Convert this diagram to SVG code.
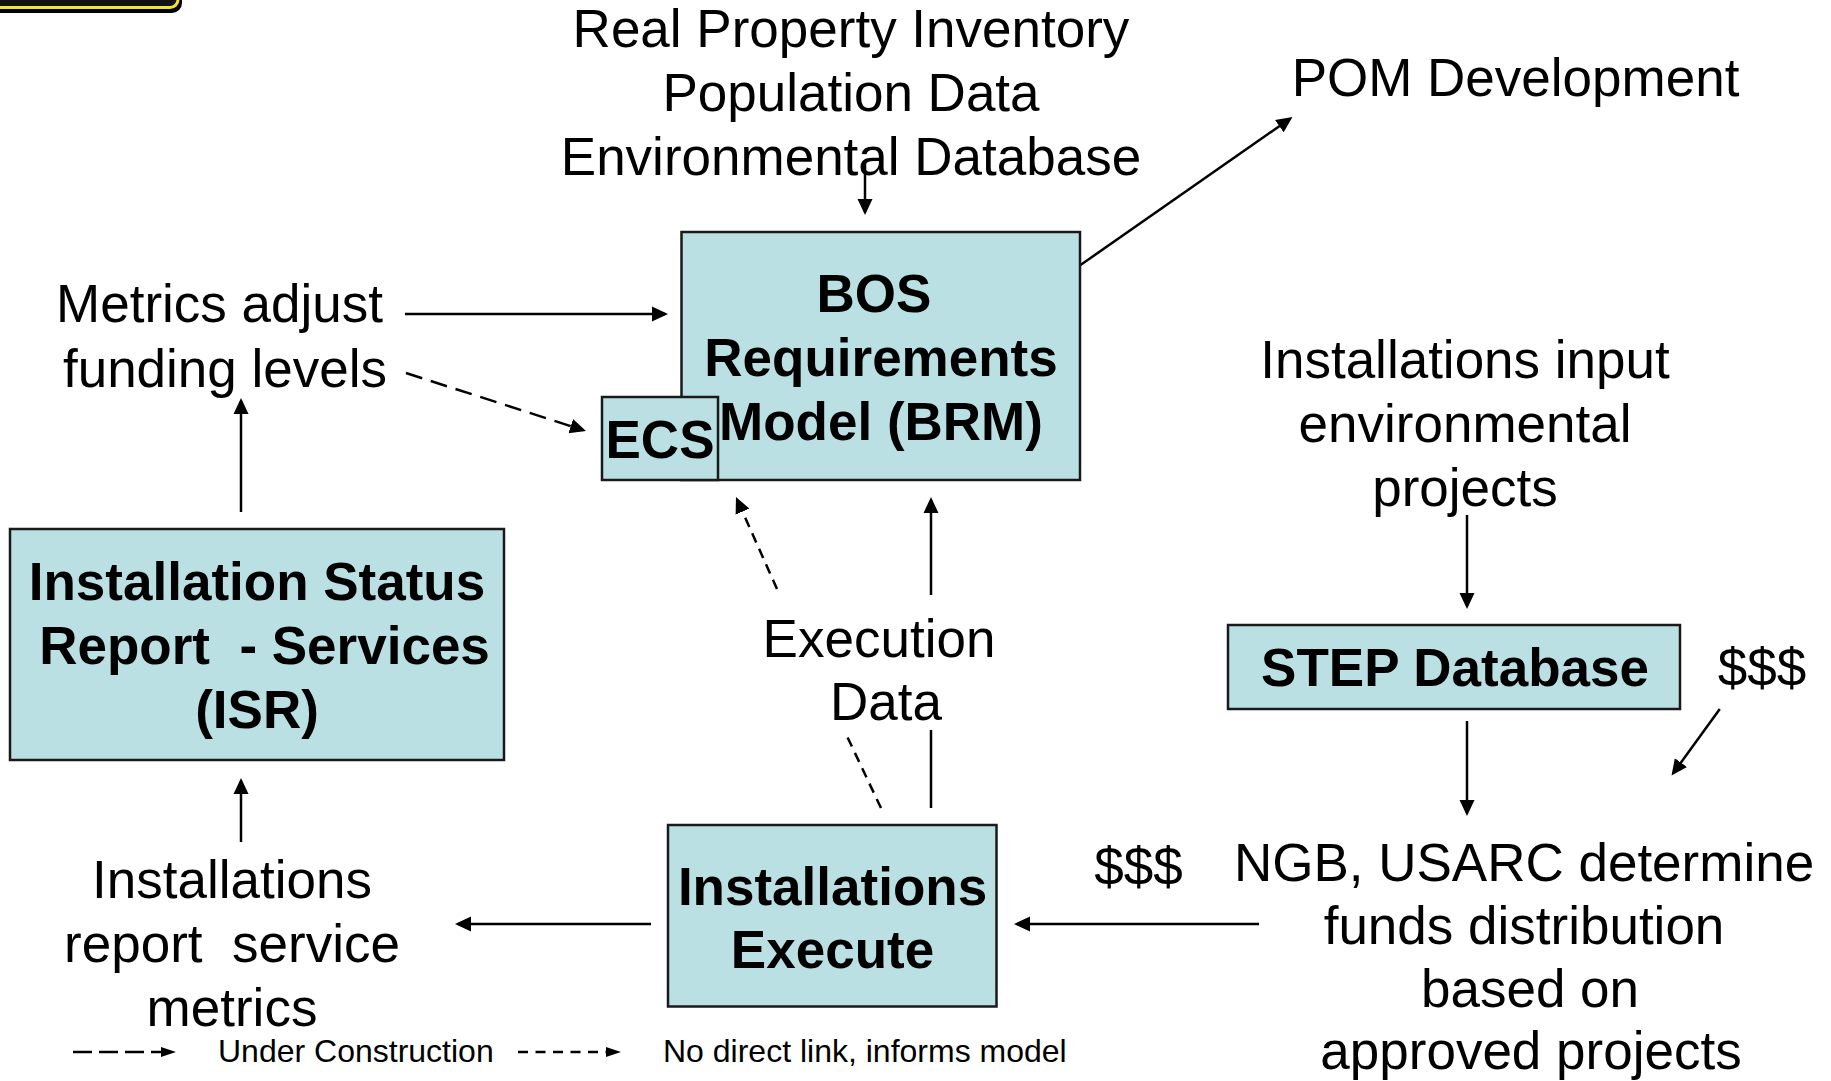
<svg xmlns="http://www.w3.org/2000/svg" width="1831" height="1081" viewBox="0 0 1831 1081">
<style>
text{font-family:"Liberation Sans",Arial,Helvetica,sans-serif;fill:#000}
.t{font-size:53px;text-anchor:middle}
.b{font-size:53px;font-weight:bold;text-anchor:middle}
.lg{font-size:32px}
.box{fill:#bae0e3;stroke:#1a1a1a;stroke-width:2.5}
.c{stroke:#000;stroke-width:2.5;fill:none}
.long{stroke-dasharray:17 9}
.short{stroke-dasharray:10 7}
.lgl{stroke:#000;stroke-width:2.5;fill:none}
</style>
<defs>
<marker id="ah" markerUnits="userSpaceOnUse" markerWidth="16" markerHeight="16" refX="13" refY="8" orient="auto" viewBox="0 0 16 16">
<path d="M0,0.5 L16,8 L0,15.5 z" fill="#000"/>
</marker>
<marker id="ahs" markerUnits="userSpaceOnUse" markerWidth="15" markerHeight="12" refX="12" refY="6" orient="auto" viewBox="0 0 15 12">
<path d="M0,1 L15,6 L0,11 z" fill="#000"/>
</marker>
</defs>
<rect width="1831" height="1081" fill="#fff"/>
<g id="badge">
<rect x="-30" y="-40" width="212" height="53" rx="10" fill="#000"/>
<rect x="-26" y="-40" width="204" height="47.5" rx="8" fill="#111" stroke="#efe23a" stroke-width="3"/>
</g>
<g id="connectors">
<line class="c" x1="865" y1="163" x2="865" y2="212" marker-end="url(#ah)"/>
<line class="c" x1="405" y1="314" x2="665" y2="314" marker-end="url(#ah)"/>
<line class="c long" x1="406" y1="373" x2="583.1" y2="430.1" marker-end="url(#ah)"/>
<line class="c" x1="1080.5" y1="265" x2="1290" y2="118.7" marker-end="url(#ah)"/>
<line class="c" x1="241" y1="512" x2="241" y2="401" marker-end="url(#ah)"/>
<line class="c" x1="241" y1="842" x2="241" y2="781" marker-end="url(#ah)"/>
<line class="c" x1="931" y1="808" x2="931" y2="730"/>
<line class="c" x1="931" y1="595" x2="931" y2="500" marker-end="url(#ah)"/>
<line class="c short" x1="881" y1="808" x2="845" y2="732"/>
<line class="c short" x1="777" y1="589" x2="737.2" y2="499.7" marker-end="url(#ah)"/>
<line class="c" x1="651" y1="924" x2="458" y2="924" marker-end="url(#ah)"/>
<line class="c" x1="1259" y1="924" x2="1017" y2="924" marker-end="url(#ah)"/>
<line class="c" x1="1467" y1="515" x2="1467" y2="606" marker-end="url(#ah)"/>
<line class="c" x1="1467" y1="721" x2="1467" y2="813" marker-end="url(#ah)"/>
<line class="c" x1="1719.8" y1="709" x2="1673.3" y2="773.1" marker-end="url(#ah)"/>
</g>
<g id="src-data">
<text class="t" x="851" y="47">Real Property Inventory</text>
<text class="t" x="851" y="111">Population Data</text>
<text class="t" x="851" y="175">Environmental Database</text>
</g>
<g id="brm">
<rect class="box" x="681.5" y="232" width="398.5" height="248"/>
<text class="b" x="874" y="312">BOS</text>
<text class="b" x="881" y="376">Requirements</text>
<text class="b" x="881" y="440">Model (BRM)</text>
</g>
<g id="ecs">
<rect class="box" x="602" y="397" width="116" height="83"/>
<text class="b" x="660" y="458">ECS</text>
</g>
<g id="pom">
<text class="t" x="1515.5" y="96">POM Development</text>
</g>
<g id="metrics">
<text class="t" x="219.5" y="322">Metrics adjust</text>
<text class="t" x="225" y="387">funding levels</text>
</g>
<g id="isr">
<rect class="box" x="10" y="529" width="494" height="231"/>
<text class="b" x="257" y="600">Installation Status</text>
<text class="b" x="264.5" y="664" xml:space="preserve">Report  - Services</text>
<text class="b" x="257" y="728">(ISR)</text>
</g>
<g id="inst-report">
<text class="t" x="232" y="898">Installations</text>
<text class="t" x="232" y="962" xml:space="preserve">report  service</text>
<text class="t" x="232" y="1026">metrics</text>
</g>
<g id="exec-data">
<text class="t" x="879" y="657">Execution</text>
<text class="t" x="886" y="720">Data</text>
</g>
<g id="inst-execute">
<rect class="box" x="668" y="825" width="328.5" height="181.5"/>
<text class="b" x="832.5" y="905">Installations</text>
<text class="b" x="832.5" y="968">Execute</text>
</g>
<g id="inst-input">
<text class="t" x="1465" y="378">Installations input</text>
<text class="t" x="1465" y="442">environmental</text>
<text class="t" x="1465" y="506">projects</text>
</g>
<g id="step">
<rect class="box" x="1228" y="625" width="452" height="84"/>
<text class="b" x="1455" y="686">STEP Database</text>
</g>
<g id="dollars-right">
<text class="t" x="1762" y="686">$$$</text>
</g>
<g id="dollars-left">
<text class="t" x="1138.5" y="885">$$$</text>
</g>
<g id="ngb">
<text class="t" x="1524" y="881">NGB, USARC determine</text>
<text class="t" x="1524" y="944">funds distribution</text>
<text class="t" x="1530" y="1007">based on</text>
<text class="t" x="1531" y="1069">approved projects</text>
</g>
<g id="legend">
<line class="lgl" x1="73" y1="1052" x2="173" y2="1052" stroke-dasharray="19 7" marker-end="url(#ahs)"/>
<text class="lg" x="218" y="1062">Under Construction</text>
<line class="lgl" x1="518" y1="1052" x2="618" y2="1052" stroke-dasharray="10 7.5" marker-end="url(#ahs)"/>
<text class="lg" x="663" y="1062">No direct link, informs model</text>
</g>
</svg>
